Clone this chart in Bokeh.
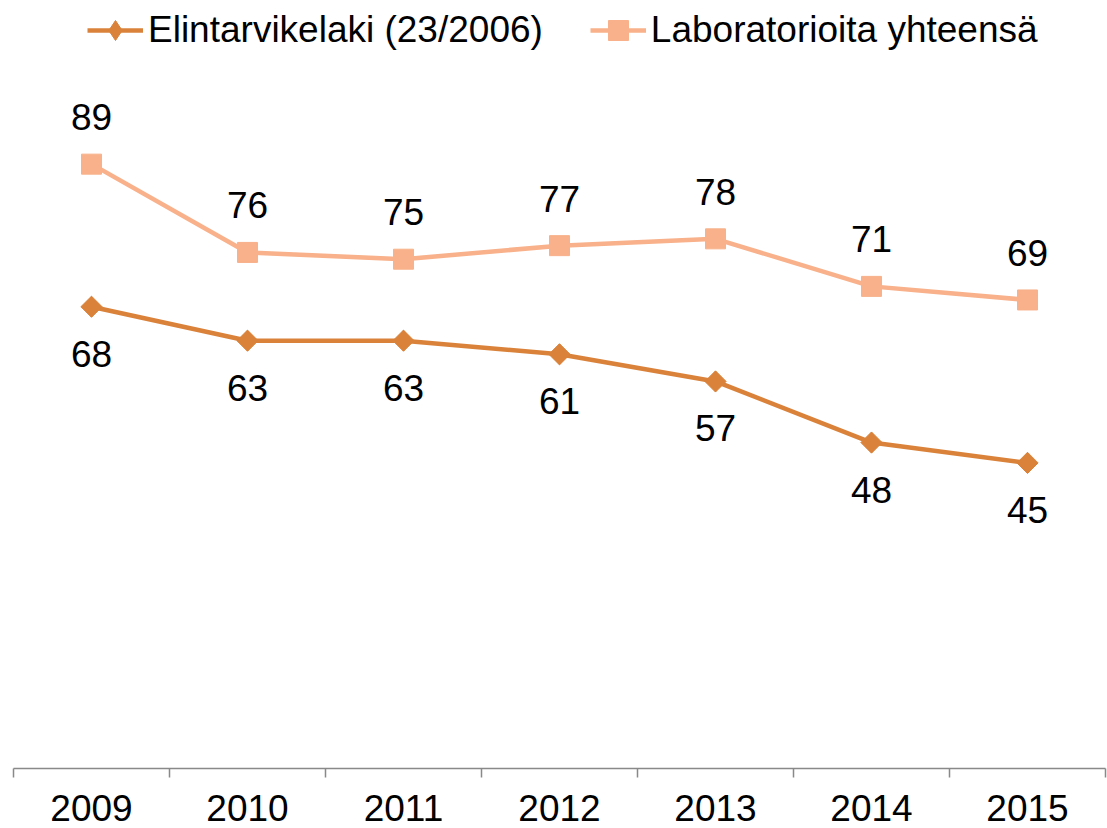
import math
from bokeh.plotting import figure
from bokeh.models import (ColumnDataSource, Range1d, FixedTicker, Legend, LegendItem,
                          LabelSet)
from bokeh.core.properties import value
from bokeh.embed import file_html
from bokeh.resources import INLINE

years = ["2009", "2010", "2011", "2012", "2013", "2014", "2015"]
elintarvikelaki = [68, 63, 63, 61, 57, 48, 45]
laboratoriot = [89, 76, 75, 77, 78, 71, 69]

name_a = "Elintarvikelaki (23/2006)"
name_b = "Laboratorioita yhteensä"

col_a = "#DA823A"
col_b = "#F8B18A"
FONT = "Liberation Sans"
FS = "37px"

xpos = [i + 0.5 for i in range(len(years))]
src = ColumnDataSource(dict(x=xpos, a=elintarvikelaki, b=laboratoriot,
                            la=[str(v) for v in elintarvikelaki],
                            lb=[str(v) for v in laboratoriot]))

p = figure(width=1107, height=828, output_backend="svg", toolbar_location=None,
           x_range=Range1d(0, len(years)), y_range=Range1d(0, 113.1),
           min_border_left=13, min_border_right=2, min_border_top=0, min_border_bottom=60)
p.outline_line_color = None
p.background_fill_color = "white"
p.xgrid.visible = False
p.ygrid.visible = False
p.yaxis.visible = False

ax = p.xaxis[0]
ax.ticker = FixedTicker(ticks=xpos, minor_ticks=list(range(len(years) + 1)))
ax.major_label_overrides = {x: y for x, y in zip(xpos, years)}
ax.major_tick_line_color = None
ax.major_tick_out = 0
ax.major_tick_in = 0
ax.minor_tick_line_color = "#898989"
ax.minor_tick_line_width = 1.5
ax.minor_tick_out = 9
ax.minor_tick_in = 0
ax.axis_line_color = "#898989"
ax.axis_line_width = 1.5
ax.major_label_text_font = FONT
ax.major_label_text_font_size = FS
ax.major_label_text_color = "black"
ax.major_label_text_line_height = 0.85
ax.major_label_standoff = 17

la = p.line("x", "a", source=src, line_color=col_a, line_width=4.5)
la_leg = p.scatter("x", "a", source=src, marker="diamond", size=20,
                   fill_color=col_a, line_color=col_a)
ma = p.scatter("x", "a", source=src, marker="square", size=15, angle=math.pi / 4,
               fill_color=col_a, line_color=col_a)
lb = p.line("x", "b", source=src, line_color=col_b, line_width=4.5)
mb = p.scatter("x", "b", source=src, marker="square", size=20, fill_color=col_b, line_color=col_b)

p.add_layout(LabelSet(x="x", y="b", text="lb", source=src, y_offset=47, text_align="center",
                      text_baseline="middle", text_font=value(FONT), text_font_size=value(FS),
                      text_color="black"))
p.add_layout(LabelSet(x="x", y="a", text="la", source=src, y_offset=-47, text_align="center",
                      text_baseline="middle", text_font=value(FONT), text_font_size=value(FS),
                      text_color="black"))

legend = Legend(items=[LegendItem(label=name_a, renderers=[la, la_leg]),
                       LegendItem(label=name_b, renderers=[lb, mb])],
                orientation="horizontal", location=(74, 713),
                glyph_width=56, glyph_height=50, label_height=36, label_standoff=5,
                spacing=47, padding=0, margin=0,
                label_text_font=FONT, label_text_font_size=FS, label_text_color="black",
                border_line_color=None, background_fill_alpha=0)
p.add_layout(legend, "center")

open("out.html", "w").write(file_html(p, INLINE))
